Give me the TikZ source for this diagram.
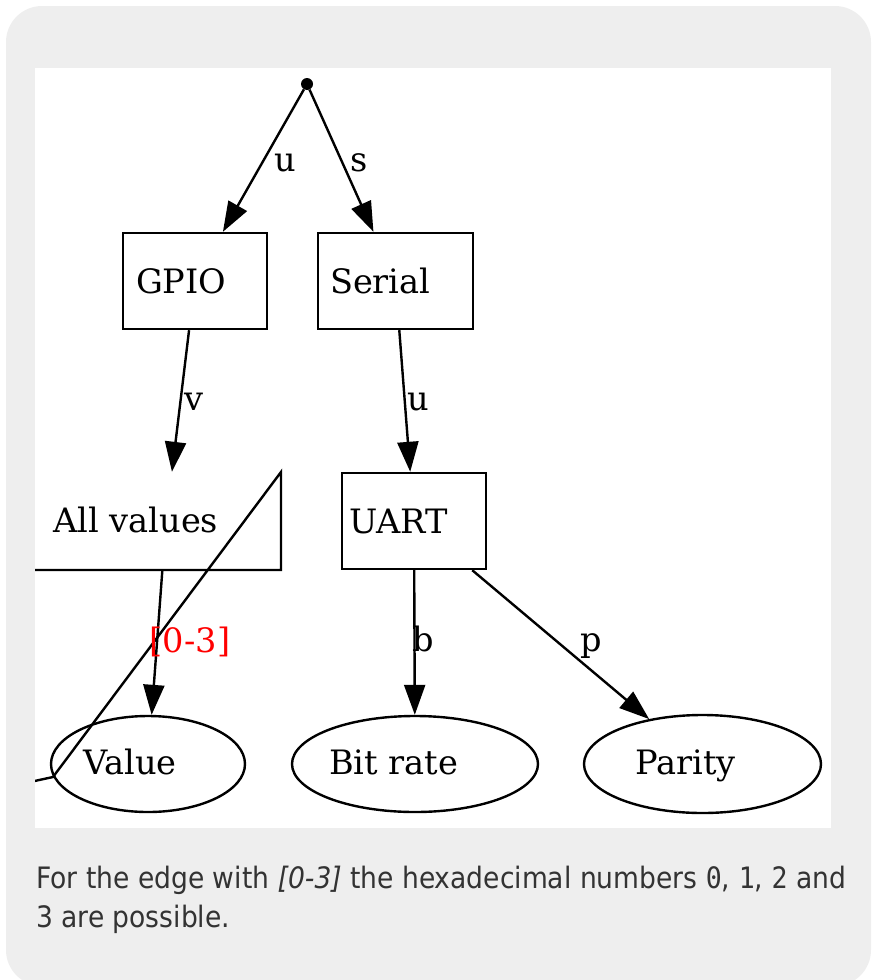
\documentclass[tikz,border=0pt]{standalone}
\usepackage{fontspec}
\setmainfont{DejaVu Serif}
\newfontfamily\capfont{DejaVu Sans}[FakeStretch=0.9]
\newfontfamily\capmono{DejaVu Sans Mono}[FakeStretch=0.9]
\usetikzlibrary{arrows.meta,shapes.geometric}
\definecolor{bggrey}{HTML}{EEEEEE}
\definecolor{captxt}{HTML}{333333}
\definecolor{lblred}{HTML}{FF0000}
\begin{document}
\begin{tikzpicture}[x=1pt,y=-1pt,
  every node/.style={font=\fontsize{33.6}{40}\selectfont},
  gline/.style={line width=2.4pt},
  gbox/.style={draw, gline, rectangle, align=left, minimum height=96pt, inner ysep=4pt},
  gell/.style={draw, gline, ellipse, inner sep=0pt},
  gedge/.style={draw, gline, -{Triangle[length=30pt,width=21pt]}},
  elabel/.style={anchor=base, inner sep=0pt},
  txt/.style={anchor=base west, inner sep=0pt},
  captext/.style={anchor=base west, inner sep=0pt, text=captxt, font=\capfont\fontsize{29.5}{34}\selectfont},
]
\useasboundingbox (0,0) rectangle (872,980);
\fill[bggrey, rounded corners=36pt] (6,6) rectangle (871,986);
\fill[white] (35,68) rectangle (831,828);

\begin{scope}
\clip (35,68) rectangle (831,828);
% nodes
\node[circle, fill=black, inner sep=0pt, minimum size=12pt] (pt) at (307,84) {};
\node[gbox, text width=118pt, inner xsep=13pt] (gpio) at (195,281) {GPIO};
\node[gbox, text width=131pt, inner xsep=12pt] (serial) at (395.5,281) {Serial};
\node[gbox, text width=130pt, inner xsep=7pt] (uart) at (414,521) {UART};
\node[rectangle, inner sep=0pt, minimum width=230pt, minimum height=98pt] (allv) at (166,521) {};
\draw[gline] (30,782) -- (53,777) -- (281,472) -- (281,570) -- (30,570);
\node[txt] (allvtxt) at (53,532) {All values};
\node[gell, minimum width=194pt, minimum height=96pt] (value) at (148,764) {};
\node[gell, minimum width=246pt, minimum height=96pt] (bitrate) at (415,764) {};
\node[gell, minimum width=237pt, minimum height=98pt] (parity) at (702.5,764) {};
\node[txt] (valuetxt) at (83,774) {Value};
\node[txt] (bitratetxt) at (329,774) {Bit rate};
\node[txt] (paritytxt) at (635,774) {Parity};
% edges
\draw[gedge] (pt) -- (gpio);
\draw[gedge] (pt) -- (serial);
\draw[gedge] (gpio) -- (allv);
\draw[gedge] (serial) -- (uart);
\draw[gedge] (allv) -- (value);
\draw[gedge] (uart) -- (bitrate);
\draw[gedge] (uart) -- (parity);
% edge labels
\node[elabel] (lu1) at (285,171) {u};
\node[elabel] (ls) at (359,171) {s};
\node[elabel] (lv) at (194,410) {v};
\node[elabel] (lu2) at (418,410) {u};
\node[elabel, text=lblred] (lr) at (190,652) {[0-3]};
\node[elabel] (lb) at (423,651) {b};
\node[elabel] (lp) at (591,651) {p};
\end{scope}

\node[captext] (cap1) at (36,888) {For the edge with \textit{[0-3]} the hexadecimal numbers {\capmono 0}, {\capmono 1}, {\capmono 2} and};
\node[captext] (cap2) at (36,927) {3 are possible.};
\end{tikzpicture}
\end{document}
